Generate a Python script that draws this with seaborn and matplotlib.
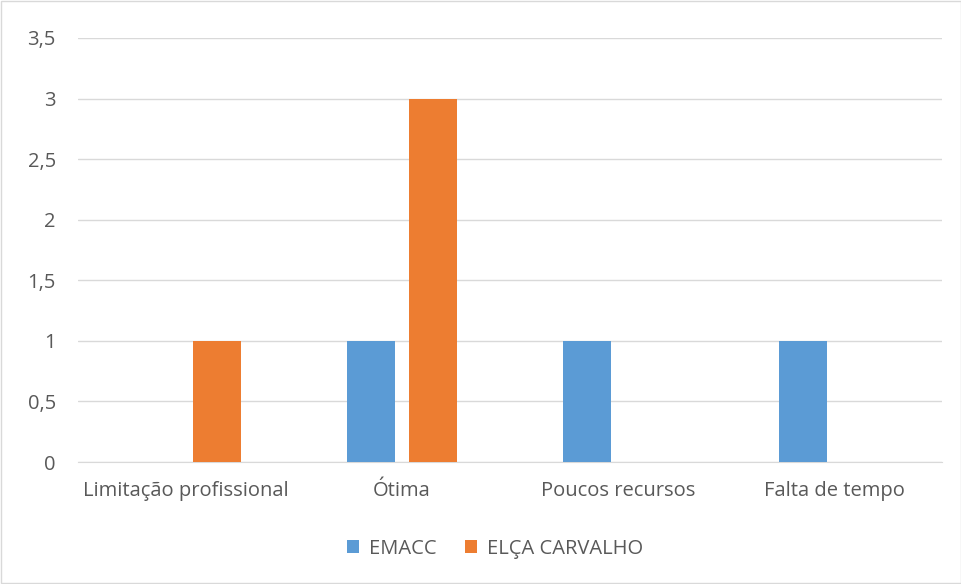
import matplotlib
matplotlib.use("Agg")
import matplotlib.pyplot as plt
import pandas as pd
import seaborn as sns
from matplotlib.ticker import FuncFormatter

# chart data
categories = ["Limitação profissional", "Ótima", "Poucos recursos", "Falta de tempo"]
emacc = [0, 1, 1, 1]
elca = [1, 3, 0, 0]
series = ["EMACC", "ELÇA CARVALHO"]

df = pd.DataFrame({
    "categoria": categories * 2,
    "valor": emacc + elca,
    "serie": [series[0]] * 4 + [series[1]] * 4,
})

sns.set_style("white")
plt.rcParams["font.family"] = ["Open Sans", "DejaVu Sans"]

fig = plt.figure(figsize=(9.62, 5.84), dpi=100)
ax = fig.add_axes([78 / 962, 1 - 462 / 584, 864 / 962, 424 / 584])

sns.barplot(data=df, x="categoria", y="valor", hue="serie",
            palette=["#5B9BD5", "#ED7D31"], width=0.574, gap=0.226,
            saturation=1, linewidth=0, ax=ax, zorder=3)

ax.set_ylim(0, 3.5)
ax.set_yticks([0, 0.5, 1, 1.5, 2, 2.5, 3, 3.5])
ax.yaxis.set_major_formatter(FuncFormatter(lambda v, p: f"{v:g}".replace(".", ",")))
ax.grid(axis="y", color="#D9D9D9", linewidth=1, zorder=0)
ax.set_axisbelow(True)
for s in ax.spines.values():
    s.set_visible(False)
ax.spines["bottom"].set_visible(True)
ax.spines["bottom"].set_color("#D9D9D9")

ax.tick_params(axis="x", length=0, pad=14, labelsize=14.5, labelcolor="#595959")
ax.tick_params(axis="y", length=0, pad=16, labelsize=14.5, labelcolor="#595959")
ax.set_xlabel("")
ax.set_ylabel("")

leg = ax.legend(loc="center", bbox_to_anchor=(0.483, -0.205), ncol=2, frameon=False,
                fontsize=14.5, handlelength=0.6, handleheight=0.6, columnspacing=1.4,
                handletextpad=0.5)
for t in leg.get_texts():
    t.set_color("#595959")

# outer border
fig.patches.append(plt.Rectangle((0.001, 0.001), 0.998, 0.998, transform=fig.transFigure,
                                 fill=False, edgecolor="#D9D9D9", linewidth=1))

fig.savefig("out.png", dpi=100)
